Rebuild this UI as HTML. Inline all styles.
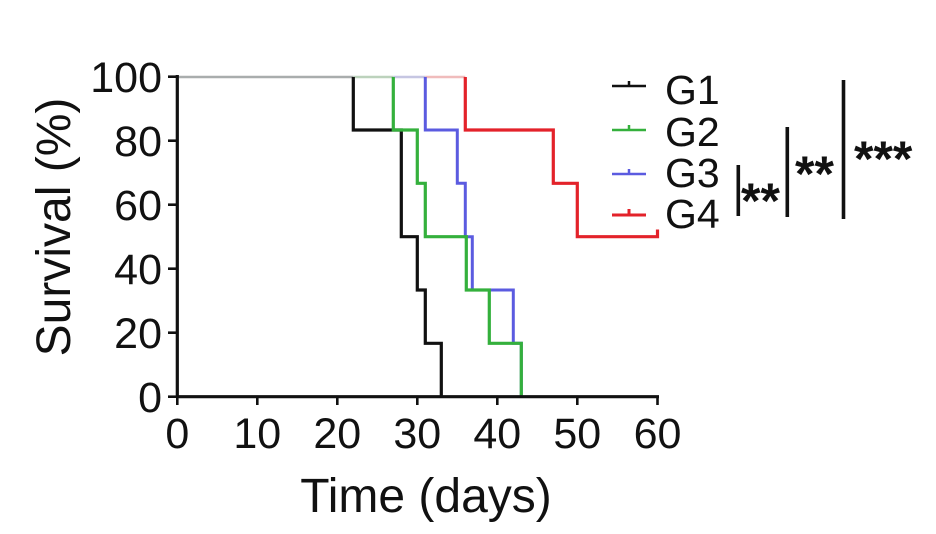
<!DOCTYPE html>
<html>
<head>
<meta charset="utf-8">
<style>
  html,body{margin:0;padding:0;background:#fff;}
  svg{display:block;}
  text{font-family:"Liberation Sans",Arial,sans-serif;fill:#111;}
</style>
</head>
<body>
<svg width="936" height="534" viewBox="0 0 936 534" xmlns="http://www.w3.org/2000/svg">
  <rect width="936" height="534" fill="#fff"/>

  <!-- top 100% line segments (faded overlaps) -->
  <line x1="177" y1="77" x2="353.3" y2="77" stroke="#a9adad" stroke-width="2.4"/>
  <line x1="353.3" y1="77" x2="393.3" y2="77" stroke="#bcd2bc" stroke-width="2.4"/>
  <line x1="393.3" y1="77" x2="425.3" y2="77" stroke="#c6c6e2" stroke-width="2.4"/>
  <line x1="425.3" y1="77" x2="465.3" y2="77" stroke="#f0bcbc" stroke-width="2.4"/>

  <!-- G1 black -->
  <polyline fill="none" stroke="#111" stroke-width="3.2" stroke-linejoin="miter"
    points="353.3,77 353.3,130 401.3,130 401.3,236.7 417.3,236.7 417.3,290 425.3,290 425.3,343.3 441.3,343.3 441.3,396.7"/>

  <!-- G3 blue -->
  <polyline fill="none" stroke="#5b5be0" stroke-width="3"
    points="425.3,77 425.3,130 457.3,130 457.3,183.3 465.3,183.3 465.3,236.7 472.3,236.7 472.3,290 513.3,290 513.3,343.3 521.3,343.3 521.3,396.7"/>

  <!-- G2 green -->
  <polyline fill="none" stroke="#34b03c" stroke-width="3.2"
    points="393.3,77 393.3,130 417.3,130 417.3,183.3 425.3,183.3 425.3,236.7 466.3,236.7 466.3,290 489.3,290 489.3,343.3 521.3,343.3 521.3,396.7"/>

  <!-- G4 red -->
  <polyline fill="none" stroke="#e3222a" stroke-width="3.2"
    points="465.3,77 465.3,130 553.3,130 553.3,183.3 577.3,183.3 577.3,236.7 657.5,236.7 657.5,229.5"/>

  <!-- axes -->
  <line x1="177.3" y1="75" x2="177.3" y2="398" stroke="#111" stroke-width="3.2"/>
  <line x1="176" y1="396.7" x2="659" y2="396.7" stroke="#111" stroke-width="3.2"/>
  <!-- y ticks -->
  <g stroke="#111" stroke-width="2.6">
    <line x1="168" y1="76.7" x2="177" y2="76.7"/>
    <line x1="168" y1="140.7" x2="177" y2="140.7"/>
    <line x1="168" y1="204.7" x2="177" y2="204.7"/>
    <line x1="168" y1="268.7" x2="177" y2="268.7"/>
    <line x1="168" y1="332.7" x2="177" y2="332.7"/>
    <line x1="168" y1="396.7" x2="177" y2="396.7"/>
  </g>
  <!-- x ticks -->
  <g stroke="#111" stroke-width="2.6">
    <line x1="177.3" y1="397" x2="177.3" y2="405"/>
    <line x1="257.3" y1="397" x2="257.3" y2="405"/>
    <line x1="337.3" y1="397" x2="337.3" y2="405"/>
    <line x1="417.3" y1="397" x2="417.3" y2="405"/>
    <line x1="497.3" y1="397" x2="497.3" y2="405"/>
    <line x1="577.3" y1="397" x2="577.3" y2="405"/>
    <line x1="657.5" y1="397" x2="657.5" y2="405"/>
  </g>

  <!-- y tick labels -->
  <g font-size="43" text-anchor="end">
    <text x="162" y="92">100</text>
    <text x="162" y="156">80</text>
    <text x="162" y="220">60</text>
    <text x="162" y="284">40</text>
    <text x="162" y="348">20</text>
    <text x="162" y="412">0</text>
  </g>
  <!-- x tick labels -->
  <g font-size="43" text-anchor="middle">
    <text x="177.3" y="448">0</text>
    <text x="257.3" y="448">10</text>
    <text x="337.3" y="448">20</text>
    <text x="417.3" y="448">30</text>
    <text x="497.3" y="448">40</text>
    <text x="577.3" y="448">50</text>
    <text x="657.5" y="448">60</text>
  </g>

  <!-- axis titles -->
  <text x="426" y="512" font-size="48" text-anchor="middle">Time (days)</text>
  <text transform="translate(70,227) rotate(-90)" x="0" y="0" font-size="48" text-anchor="middle">Survival (%)</text>

  <!-- legend -->
  <g stroke-width="2.5">
    <line x1="612" y1="86" x2="646" y2="86" stroke="#111"/>
    <line x1="629" y1="86" x2="629" y2="81" stroke="#111"/>
    <line x1="612" y1="130" x2="646" y2="130" stroke="#34b03c"/>
    <line x1="629" y1="130" x2="629" y2="125" stroke="#34b03c"/>
    <line x1="612" y1="174" x2="646" y2="174" stroke="#5b5be0"/>
    <line x1="629" y1="174" x2="629" y2="169" stroke="#5b5be0"/>
    <line x1="612" y1="215" x2="646" y2="215" stroke="#e3222a" stroke-width="3"/>
    <line x1="629" y1="215" x2="629" y2="209" stroke="#e3222a" stroke-width="3"/>
  </g>
  <g font-size="41">
    <text x="665" y="104">G1</text>
    <text x="665" y="146">G2</text>
    <text x="665" y="187">G3</text>
    <text x="665" y="228">G4</text>
  </g>

  <!-- significance bars -->
  <g stroke="#111" stroke-width="3.6">
    <line x1="738.3" y1="165" x2="738.3" y2="216"/>
    <line x1="787.3" y1="127" x2="787.3" y2="217"/>
    <line x1="843.5" y1="80" x2="843.5" y2="219"/>
  </g>
  <g font-size="50" font-weight="bold">
    <text x="741" y="218">**</text>
    <text x="795" y="191">**</text>
    <text x="854" y="176">***</text>
  </g>
</svg>
</body>
</html>
